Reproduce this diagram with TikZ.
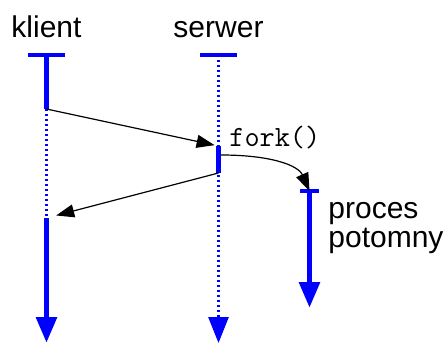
\documentclass[tikz,border=0pt]{standalone}
\usepackage{fontspec}
\setmainfont{Liberation Sans}
\usetikzlibrary{arrows.meta}
\begin{document}
\begin{tikzpicture}[x=0.5pt, y=-0.5pt,
  lbl/.style={font=\fontsize{15}{14.5}\selectfont, inner sep=0pt},
  bar/.style={blue, line width=1.7pt},
  live/.style={blue, line width=2.9pt},
  idle/.style={blue, line width=1.4pt, dash pattern=on 1.2pt off 1.3pt},
  down/.style={-{Triangle[length=13pt, width=10pt]}},
  msg/.style={black, line width=0.6pt, -{Triangle[length=9pt, width=6.5pt]}}]
\useasboundingbox (0,0) rectangle (445,343);
% labels
\node[lbl, anchor=base] (klient) at (46.5,37) {klient};
\node[lbl, anchor=base] (serwer) at (218.5,37) {serwer};
\node[font=\fontsize{14.7}{14.7}\selectfont\ttfamily, inner sep=0pt, anchor=base west] (fork) at (229,146) {fork()};
\node[lbl, anchor=base west, align=left] (child) at (328,247) {proces\\potomny};
% points on the lines
\coordinate (k0) at (46.5,55);
\coordinate (k1) at (46.5,109);
\coordinate (k2) at (46.5,218);
\coordinate (k3) at (46.5,343);
\coordinate (s0) at (218.5,55);
\coordinate (s1) at (218.5,146);
\coordinate (sf) at (221,155);
\coordinate (s2) at (218.5,173);
\coordinate (s3) at (218.5,343);
\coordinate (p0) at (309.5,191);
\coordinate (p1) at (309.5,308);
% klient
\draw[bar] (28,55) -- (65,55);
\draw[live] (k0) -- (k1);
\draw[idle] (k1) -- (k2);
\draw[live, down] (k2) -- (k3);
% serwer
\draw[bar] (200,55) -- (237,55);
\draw[idle, down] (s0) -- (s3);
\draw[live] (s1) -- (s2);
% proces potomny
\draw[bar] (300,191) -- (319,191);
\draw[live, down] (p0) -- (p1);
% messages
\draw[msg, shorten >=2pt] (k1) -- (s1);
\draw[msg, shorten >=5pt] (s2) -- (k2);
\draw[msg] (sf) .. controls (270,155) and (298,165) .. (p0);
\end{tikzpicture}
\end{document}
